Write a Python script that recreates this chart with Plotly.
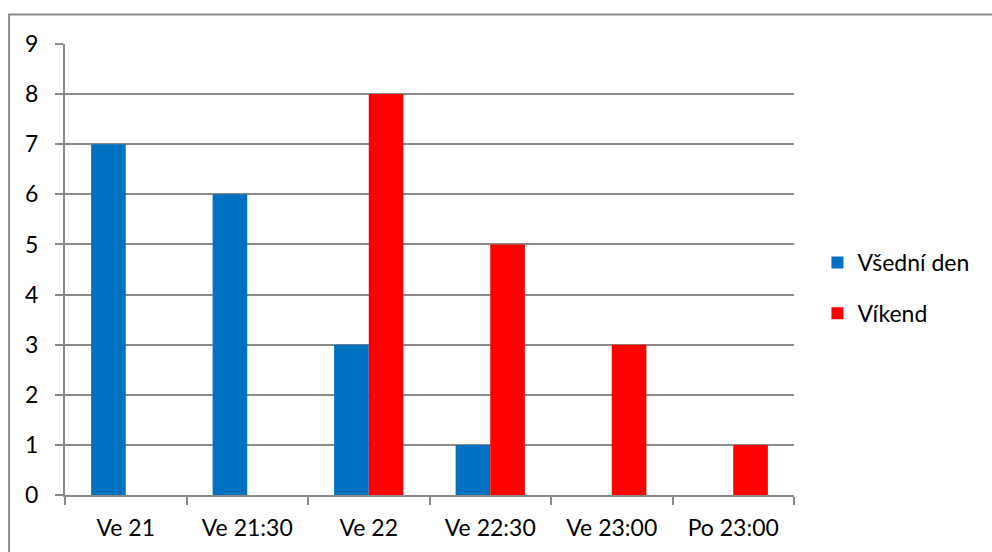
import plotly.graph_objects as go

# Time slots and counts per day type
categories = ["Ve 21", "Ve 21:30", "Ve 22", "Ve 22:30", "Ve 23:00", "Po 23:00"]
weekday_counts = [7, 6, 3, 1, 0, 0]
weekend_counts = [0, 0, 8, 5, 3, 1]
series_names = ["Všední den", "Víkend"]
series_colors = ["#0070C0", "#FF0000"]
y_ticks = list(range(0, 10))

FONT = "Lato"
FS = 23
GRID = "#8a8a8a"

fig = go.Figure()
for name, vals, color, grp in zip(series_names, [weekday_counts, weekend_counts],
                                  series_colors, ["a", "b"]):
    fig.add_trace(go.Bar(
        x=categories, y=vals, name=name, legendgroup=grp,
        marker=dict(color=color, line=dict(width=0)),
    ))

# outer chart frame
fig.add_shape(type="rect", xref="paper", yref="paper",
              x0=(8.5 - 64.5) / 730, x1=(1100 - 64.5) / 730,
              y0=(495 - 600) / 451, y1=(495 - 14.5) / 451,
              line=dict(color="#8c8c8c", width=2), fillcolor="rgba(0,0,0,0)",
              layer="below")

fig.update_layout(
    width=992, height=552,
    margin=dict(l=64.5, r=197.5, t=44, b=57),
    paper_bgcolor="white", plot_bgcolor="white",
    font=dict(family=FONT, size=FS, color="#000000"),
    barmode="group", bargap=0.43, bargroupgap=0,
    showlegend=True,
    legend=dict(x=(818 - 64.5) / 730, xanchor="left", y=(495 - 288) / 451, yanchor="middle",
                xref="paper", yref="paper",
                font=dict(family=FONT, size=FS), tracegroupgap=18,
                bgcolor="rgba(0,0,0,0)", itemclick=False),
    xaxis=dict(
        type="category", showgrid=False, showline=True, linecolor=GRID, linewidth=2,
        ticks="outside", tickson="boundaries", ticklen=8, tickcolor=GRID, tickwidth=2,
        tickfont=dict(family=FONT, size=FS), ticklabelstandoff=11,
    ),
    yaxis=dict(
        range=[0, 9], tickvals=y_ticks, showgrid=True, gridcolor=GRID, gridwidth=2,
        showline=True, linecolor=GRID, linewidth=2, zeroline=False,
        ticks="outside", ticklen=8, tickcolor=GRID, tickwidth=2,
        tickfont=dict(family=FONT, size=FS), ticklabelstandoff=12,
    ),
)

fig.write_html("out.html")
